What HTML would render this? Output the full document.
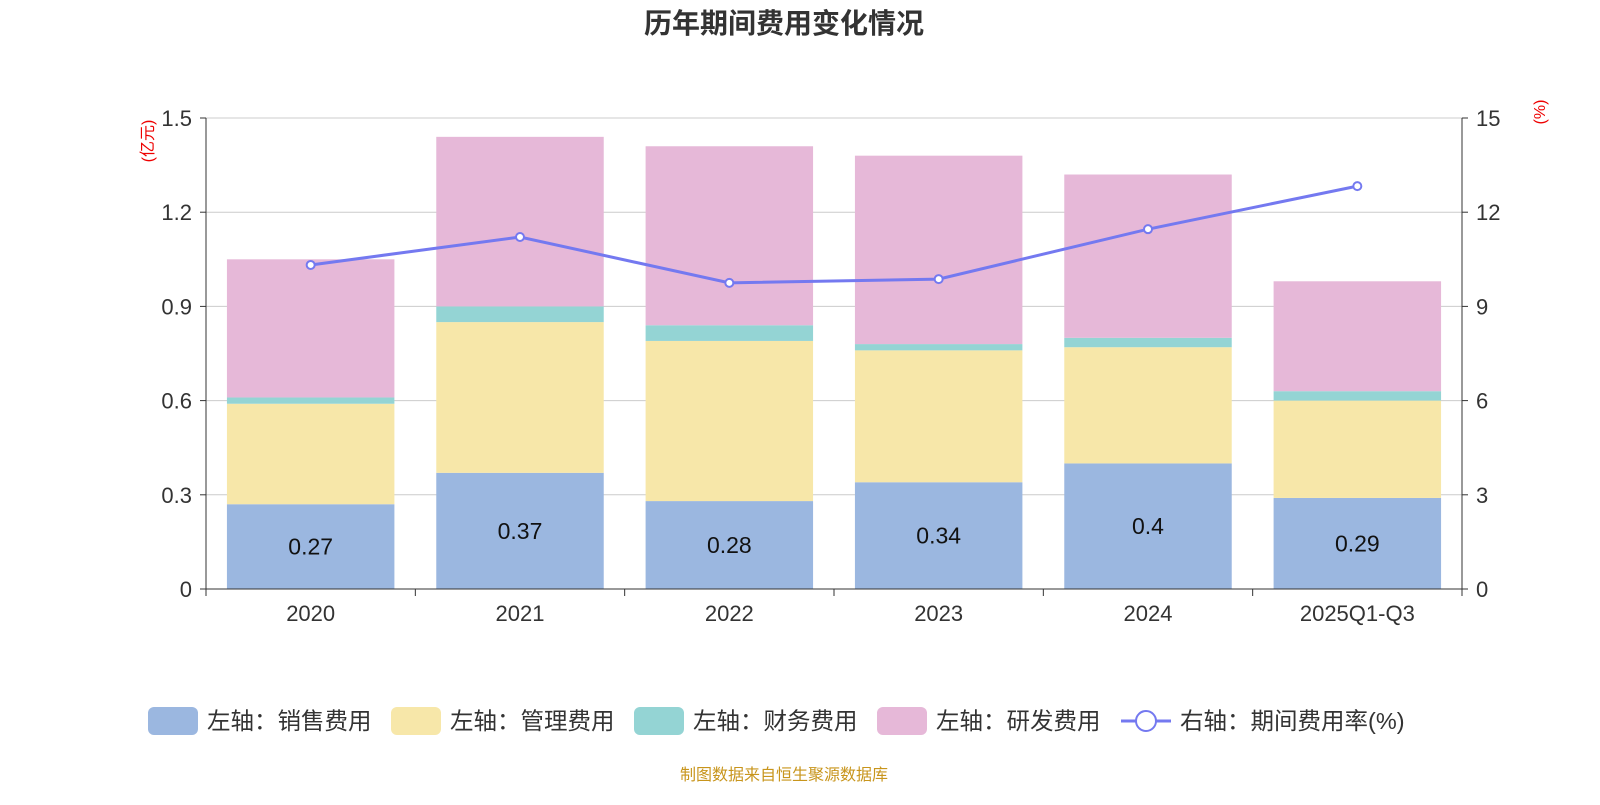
<!DOCTYPE html>
<html><head><meta charset="utf-8"><style>
body{margin:0;background:#fff;font-family:"Liberation Sans","Noto Sans CJK SC",sans-serif;}
svg text{font-family:"Liberation Sans","Noto Sans CJK SC",sans-serif;}
</style></head><body>
<svg id="chart" width="1600" height="800" xmlns="http://www.w3.org/2000/svg">
<text x="784" y="33" text-anchor="middle" font-size="28" font-weight="bold" fill="#333">历年期间费用变化情况</text>
<text transform="translate(153,141) rotate(-90)" font-size="16" fill="#e00" text-anchor="middle">(亿元)</text>
<text transform="translate(1545,112) rotate(-90)" font-size="16" fill="#e00" text-anchor="middle">(%)</text>
<g id="grid"></g><g id="bars"></g><g id="line"></g><g id="axes"></g>
<g id="legend" font-size="23.5" fill="#333"></g>
<text x="784" y="780" text-anchor="middle" font-size="16" fill="#c8951c">制图数据来自恒生聚源数据库</text>
</svg>
<script>
const categories=["2020","2021","2022","2023","2024","2025Q1-Q3"];
const sales=[0.27,0.37,0.28,0.34,0.40,0.29];
const mgmt=[0.32,0.48,0.51,0.42,0.37,0.31];
const fin=[0.02,0.05,0.05,0.02,0.03,0.03];
const rd=[0.44,0.54,0.57,0.60,0.52,0.35];
const rate=[10.32,11.21,9.75,9.87,11.46,12.83];
const salesLabels=["0.27","0.37","0.28","0.34","0.4","0.29"];
const leftTicks=[0,0.3,0.6,0.9,1.2,1.5];
const rightTicks=[0,3,6,9,12,15];
const NS="http://www.w3.org/2000/svg";
const L=206,R=1462,T=118,B=589;
const band=(R-L)/categories.length;
const xc=i=>L+band*(i+0.5);
const yl=v=>B-v/1.5*(B-T);
const yr=v=>B-v/15*(B-T);
function mk(tag,attrs,parent,text){const e=document.createElementNS(NS,tag);for(const k in attrs)e.setAttribute(k,attrs[k]);if(text!==undefined)e.textContent=text;document.getElementById(parent).appendChild(e);return e;}
leftTicks.forEach((t,i)=>{
 if(i>0){const g=mk('line',{x1:L,x2:R,y1:yl(t),y2:yl(t),stroke:'#ccc','stroke-width':1},'grid');
 
 }
 const a=mk('text',{x:L-14,y:yl(t)+8,'text-anchor':'end','font-size':22,fill:'#333'},'axes',String(t));
 
 
 mk('line',{x1:L-6,x2:L,y1:yl(t),y2:yl(t),stroke:'#333'},'axes');
});
rightTicks.forEach(t=>{
 const a=mk('text',{x:R+14,y:yr(t)+8,'font-size':22,fill:'#333'},'axes',String(t));
 
 
 mk('line',{x1:R,x2:R+6,y1:yr(t),y2:yr(t),stroke:'#333'},'axes');
});
mk('line',{x1:L,x2:L,y1:T,y2:B,stroke:'#333'},'axes');
mk('line',{x1:R,x2:R,y1:T,y2:B,stroke:'#333'},'axes');
mk('line',{x1:L,x2:R,y1:B,y2:B,stroke:'#333'},'axes');
for(let i=0;i<=categories.length;i++)mk('line',{x1:L+band*i,x2:L+band*i,y1:B,y2:B+7,stroke:'#333'},'axes');
const series=[[sales,'#9bb7e0','sales'],[mgmt,'#f7e7a9','mgmt'],[fin,'#94d4d4','fin'],[rd,'#e6b8d8','rd']];
const bw=band*0.8;
categories.forEach((c,i)=>{
 let base=0;
 series.forEach(([arr,col,nm])=>{
  const r=mk('rect',{x:xc(i)-bw/2,y:yl(base+arr[i]),width:bw,height:yl(base)-yl(base+arr[i]),fill:col},'bars');
  
  
  base+=arr[i];
 });
 const lb=mk('text',{x:xc(i),y:(yl(0)+yl(sales[i]))/2+8,'text-anchor':'middle','font-size':23,fill:'#111'},'bars',salesLabels[i]);
 
 
 const xl=mk('text',{x:xc(i),y:B+32,'text-anchor':'middle','font-size':22,fill:'#333'},'axes',c);
 
 
});
const pl=mk('polyline',{points:rate.map((v,i)=>xc(i)+','+yr(v)).join(' '),fill:'none',stroke:'#7479f0','stroke-width':3},'line');


rate.forEach((v,i)=>{const p=mk('circle',{cx:xc(i),cy:yr(v),r:4,fill:'#fff',stroke:'#7479f0','stroke-width':2},'line');
 
 });
const leg=[['#9bb7e0','左轴：销售费用',148],['#f7e7a9','左轴：管理费用',391],['#94d4d4','左轴：财务费用',634],['#e6b8d8','左轴：研发费用',877]];
leg.forEach(([c,t,x])=>{
 const r=mk('rect',{x:x,y:707,width:50,height:28,rx:6,fill:c},'legend');
 
 
 const tx=mk('text',{x:x+59,y:729},'legend',t);
 
 
});
mk('line',{x1:1121,x2:1171,y1:721,y2:721,stroke:'#7479f0','stroke-width':3},'legend');
const lc=mk('circle',{cx:1146,cy:721,r:10,fill:'#fff',stroke:'#7479f0','stroke-width':2},'legend');


const lt=mk('text',{x:1180,y:729},'legend','右轴：期间费用率(%)');


</script>
</body></html>
